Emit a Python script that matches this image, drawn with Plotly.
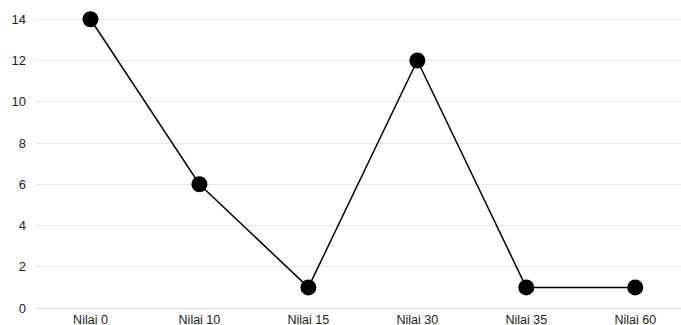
import plotly.graph_objects as go

categories = ["Nilai 0", "Nilai 10", "Nilai 15", "Nilai 30", "Nilai 35", "Nilai 60"]
values = [14, 6, 1, 12, 1, 1]
y_ticks = [0, 2, 4, 6, 8, 10, 12, 14]

fig = go.Figure(
    go.Scatter(
        x=categories,
        y=values,
        mode="lines+markers",
        line=dict(color="#000000", width=1.5),
        marker=dict(color="#000000", size=16),
        cliponaxis=False,
        showlegend=False,
    )
)

fig.update_layout(
    width=681,
    height=325,
    margin=dict(l=36, r=0, t=11, b=17),
    paper_bgcolor="white",
    plot_bgcolor="white",
    font=dict(family="Liberation Sans, Arial, sans-serif", size=13, color="#222222"),
)

fig.update_xaxes(
    type="category",
    range=[-0.5, 5.42],
    automargin=False,
    showgrid=False,
    showline=False,
    zeroline=False,
    ticks="",
    ticklabelstandoff=2,
    tickfont=dict(size=12.5),
)

fig.update_yaxes(
    range=[0, 14.4],
    tickvals=y_ticks,
    automargin=False,
    showgrid=True,
    gridcolor="#e6e6e6",
    gridwidth=1,
    zeroline=True,
    zerolinecolor="#d9d9d9",
    zerolinewidth=1,
    showline=False,
    ticks="",
    ticklabelstandoff=9,
    tickfont=dict(size=13),
)

fig.write_html("out.html")
